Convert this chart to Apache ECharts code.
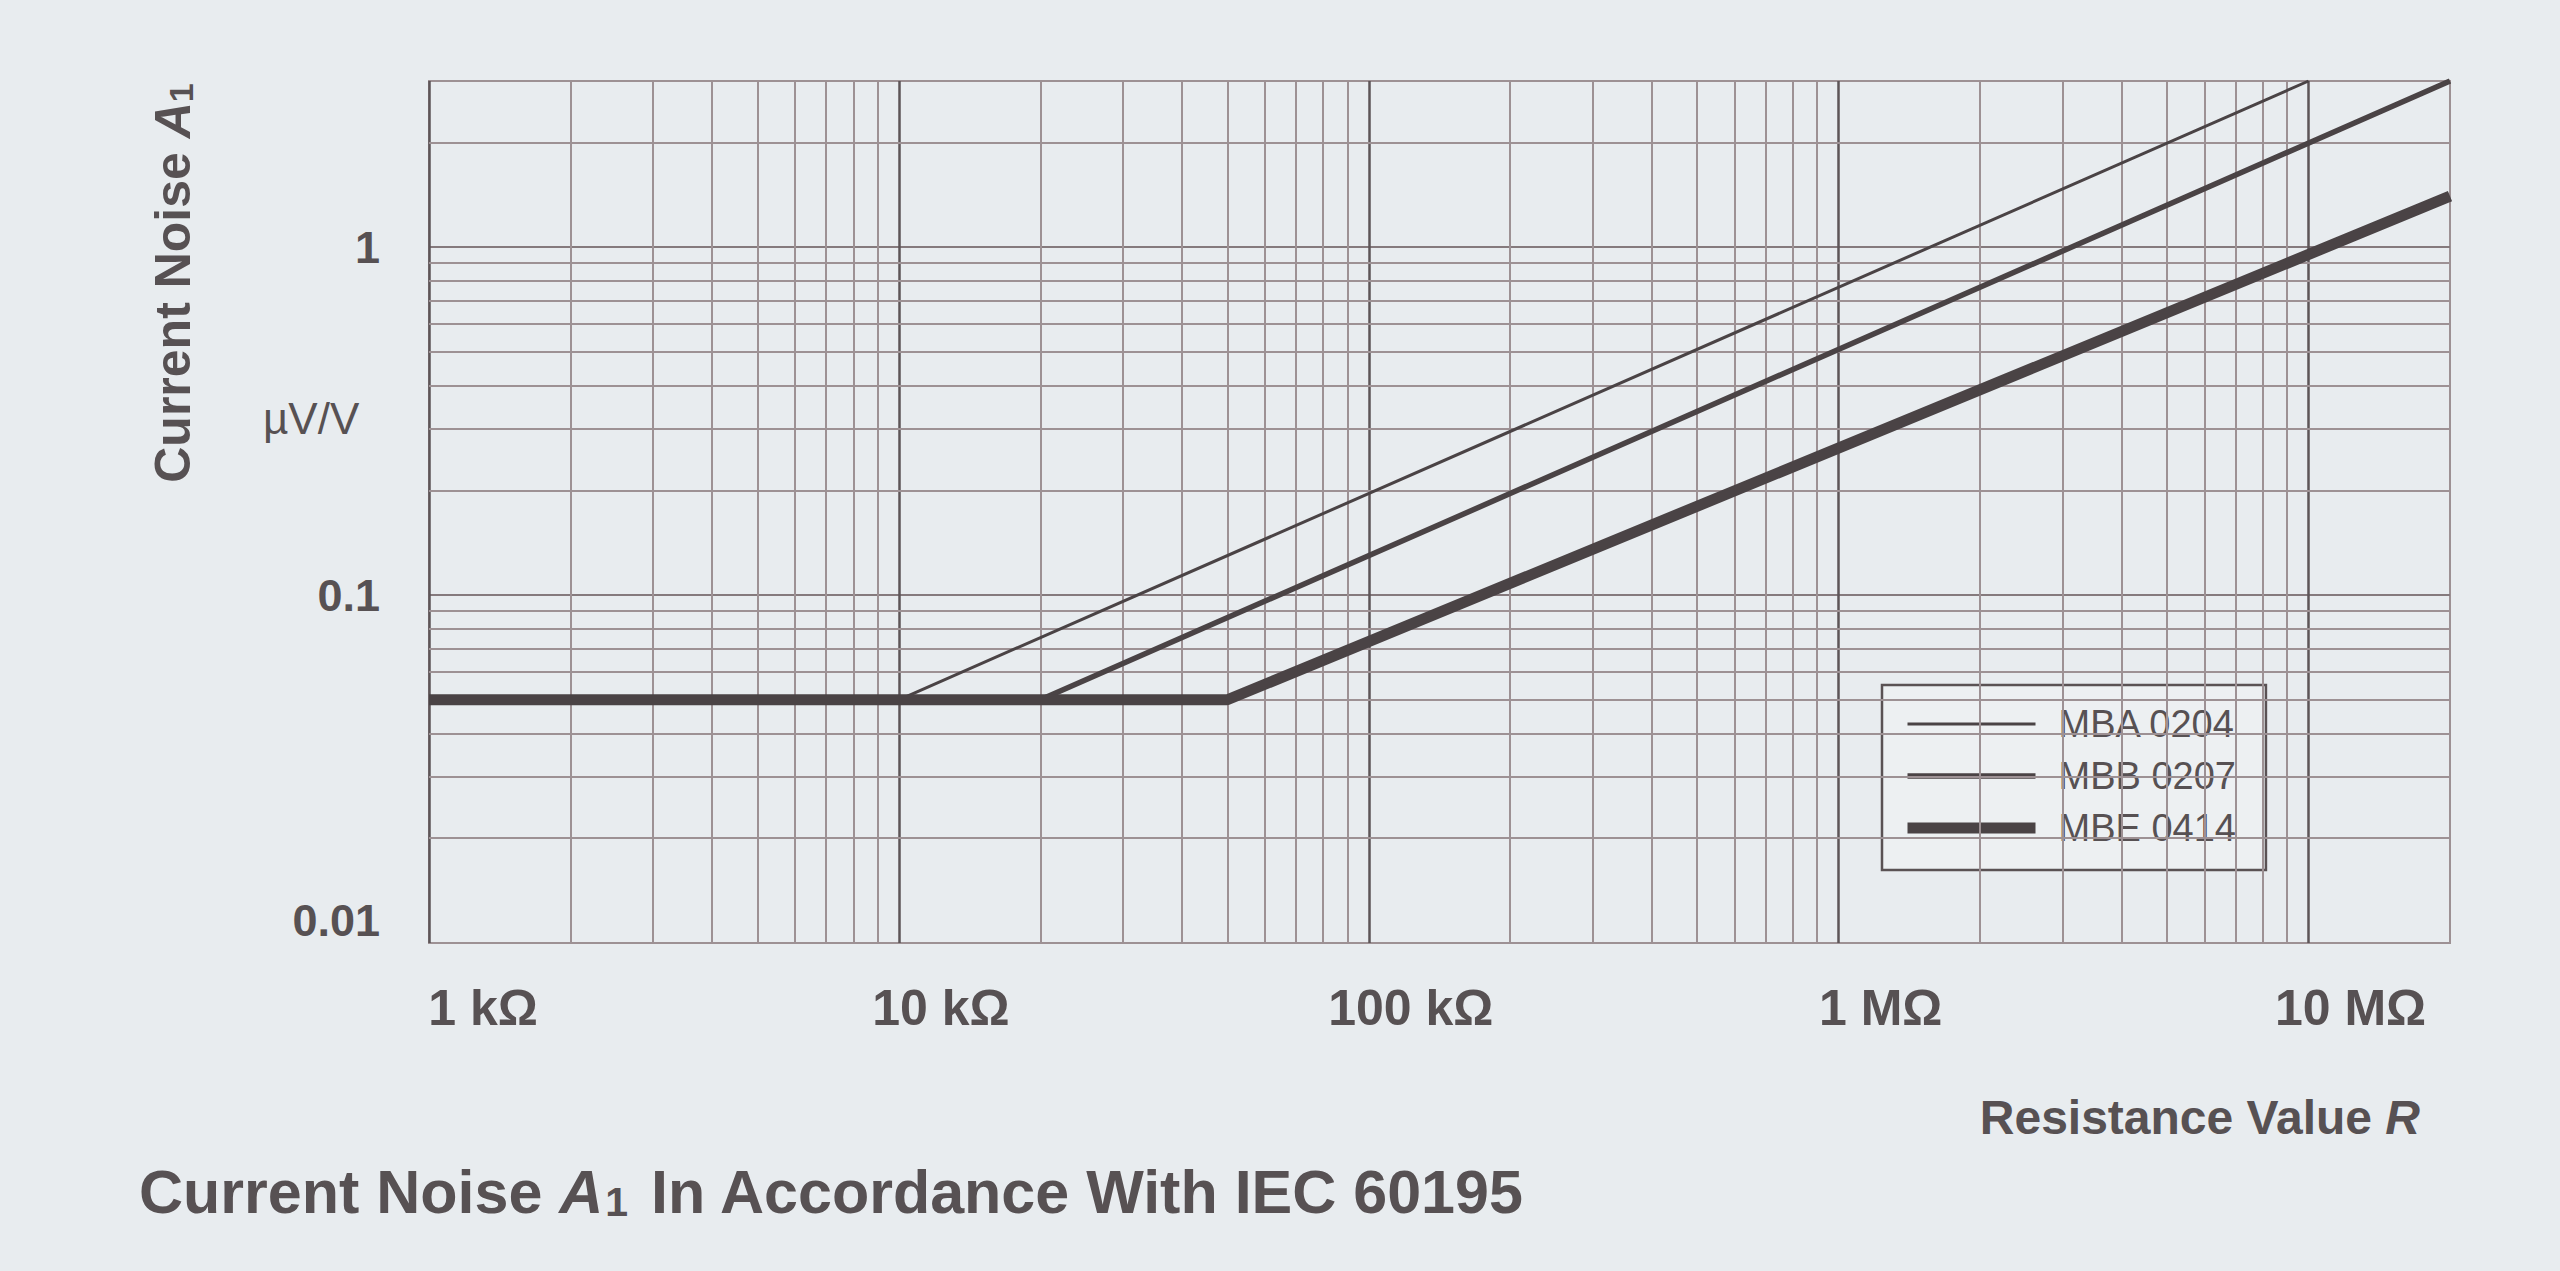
<!DOCTYPE html>
<html>
<head>
<meta charset="utf-8">
<script src="https://cdn.jsdelivr.net/npm/echarts@6/dist/echarts.min.js"></script>
<style>
  body { margin: 0; background: #e8ecef; }
  #chart { width: 2560px; height: 1271px; }
</style>
</head>
<body>
<div id="chart"></div>
<script>
// resistance (ohm) / current noise (uV/V) corner points
const resistanceMBA = [1000, 10000, 10000000];
const noiseMBA = [0.05, 0.05, 3];
const resistanceMBB = [1000, 20000, 20000000];
const noiseMBB = [0.05, 0.05, 3];
const resistanceMBE = [1000, 50000, 20000000];
const noiseMBE = [0.05, 0.05, 1.4];

const seriesNames = ['MBA 0204', 'MBB 0207', 'MBE 0414'];
const lineWidths = [3, 5.5, 11];

const xTickValues = [1e3, 1e4, 1e5, 1e6, 1e7];
const xTickLabels = ['1 kΩ', '10 kΩ', '100 kΩ', '1 MΩ', '10 MΩ'];
const yTickValues = [0.01, 0.1, 1];
const yTickLabels = ['0.01', '0.1', '1'];

const xMin = 1e3, xMax = 2e7;
const yMin = 0.01, yMax = 3;

// minor log grid: 2..9 in each decade
const gridSteps = [2, 3, 4, 5, 6, 7, 8, 9];
const xGridDecades = [1e3, 1e4, 1e5, 1e6, 1e7];
const yGridDecades = [0.01, 0.1, 1];

const textColor = '#575153';
const lineColor = '#4a4345';

function pairs(xs, ys) {
  return xs.map(function (x, i) { return [x, ys[i]]; });
}

function pickLabel(values, v) {
  for (let i = 0; i < values.length; i++) {
    if (Math.abs(Math.log10(v) - Math.log10(values[i])) < 0.01) return i;
  }
  return -1;
}

let xMinor = [];
xGridDecades.forEach(function (d) {
  gridSteps.forEach(function (s) { if (d * s < xMax) xMinor.push(d * s); });
});
let yMinor = [];
yGridDecades.forEach(function (d) {
  gridSteps.forEach(function (s) { if (d * s < yMax * 0.999) yMinor.push(d * s); });
});

var myChart = echarts.init(document.getElementById('chart'), null, {renderer: 'svg'});

var xLabelStyle = {fontSize: 50, fontWeight: 'bold', color: textColor, lineHeight: 50};

var option = {
  backgroundColor: '#e8ecef',
  animation: false,
  textStyle: {fontFamily: 'Liberation Sans, Arial, sans-serif'},
  title: [
    {
      text: 'Current Noise {i|A}{s|1} In Accordance With IEC 60195',
      left: 139,
      top: 1162,
      padding: 0,
      textStyle: {
        fontSize: 61, fontWeight: 'bold', color: textColor, lineHeight: 60,
        rich: {
          i: {fontSize: 61, fontWeight: 'bold', fontStyle: 'italic', color: textColor, lineHeight: 60},
          s: {fontSize: 41, fontWeight: 'bold', color: textColor, lineHeight: 40, verticalAlign: 'bottom', padding: [0, 6, 0, 2]}
        }
      }
    },
    {
      text: 'Resistance Value {i|R}',
      right: 140,
      top: 1093,
      padding: 0,
      textStyle: {
        fontSize: 48, fontWeight: 'bold', color: textColor, lineHeight: 48,
        rich: {
          i: {fontSize: 48, fontWeight: 'bold', fontStyle: 'italic', color: textColor, lineHeight: 48}
        }
      }
    },
    {
      text: 'µV/V',
      left: 263,
      top: 396,
      padding: 0,
      textStyle: {fontSize: 44, fontWeight: 'normal', color: textColor, lineHeight: 44}
    }
  ],
  graphic: [
    {
      type: 'text',
      x: 173,
      y: 283,
      rotation: Math.PI / 2,
      style: {
        text: 'Current Noise {i|A}{s|1}',
        font: 'bold 50px Liberation Sans, Arial, sans-serif',
        fill: textColor,
        align: 'center',
        verticalAlign: 'middle',
        rich: {
          i: {font: 'italic bold 50px Liberation Sans, Arial, sans-serif', fill: textColor, lineHeight: 50},
          s: {font: 'bold 34px Liberation Sans, Arial, sans-serif', fill: textColor, lineHeight: 34, verticalAlign: 'bottom'}
        }
      }
    }
  ],
  legend: {
    orient: 'vertical',
    left: 1882,
    top: 685,
    padding: [20, 30, 23, 20],
    itemWidth: 128,
    itemHeight: 38,
    itemGap: 14,
    backgroundColor: '#edf0f2',
    borderColor: '#5a5254',
    borderWidth: 2.5,
    borderRadius: 0,
    selectedMode: false,
    textStyle: {fontSize: 38, color: textColor, padding: [0, 0, 0, 18]},
    data: seriesNames.map(function (n, i) {
      return {
        name: n,
        lineStyle: {width: lineWidths[i], color: lineColor},
        itemStyle: {opacity: 0, color: 'rgba(0,0,0,0)', borderWidth: 0}
      };
    })
  },
  grid: {
    left: 429,
    top: 81,
    width: 2021,
    height: 862,
    show: true,
    backgroundColor: 'transparent',
    borderColor: '#9d9194',
    borderWidth: 2,
    containLabel: false,
    outerBoundsMode: 'none'
  },
  xAxis: {
    type: 'log',
    logBase: 10,
    min: xMin,
    max: xMax,
    axisLine: {show: false},
    axisTick: {show: false},
    axisLabel: {
      showMaxLabel: false,
      fontSize: 50,
      fontWeight: 'bold',
      color: textColor,
      lineHeight: 50,
      margin: 40,
      formatter: function (v) {
        let i = pickLabel(xTickValues, v);
        if (i < 0) return '';
        return (i === 0 ? '{first|' : '{n|') + xTickLabels[i] + '}';
      },
      rich: {
        n: Object.assign({padding: [0, 0, 0, 84]}, xLabelStyle),
        first: Object.assign({padding: [0, 0, 0, 108]}, xLabelStyle)
      }
    },
    splitLine: {
      show: true,
      showMinLine: false,
      showMaxLine: false,
      lineStyle: {color: '#5d5557', width: 2.5}
    }
  },
  yAxis: {
    type: 'log',
    logBase: 10,
    min: yMin,
    max: yMax,
    axisLine: {show: false},
    axisTick: {show: false},
    axisLabel: {
      showMaxLabel: false,
      margin: 49,
      color: textColor,
      fontSize: 45,
      fontWeight: 'bold',
      formatter: function (v) {
        let i = pickLabel(yTickValues, v);
        if (i < 0) return '';
        return (i === 0 ? '{low|' : '{n|') + yTickLabels[i] + '}';
      },
      rich: {
        n: {fontSize: 45, fontWeight: 'bold', color: textColor, lineHeight: 45},
        low: {fontSize: 45, fontWeight: 'bold', color: textColor, lineHeight: 45, padding: [0, 0, 46, 0]}
      }
    },
    splitLine: {
      show: true,
      showMinLine: false,
      showMaxLine: false,
      lineStyle: {color: '#857a7d', width: 2}
    }
  },
  series: [
    {
      name: 'minor grid',
      type: 'line',
      data: [],
      silent: true,
      z: 1,
      markLine: {
        silent: true,
        animation: false,
        symbol: ['none', 'none'],
        label: {show: false},
        emphasis: {disabled: true},
        lineStyle: {type: 'solid', color: '#9d9194', width: 2},
        data: xMinor.map(function (v) { return {xAxis: v}; })
          .concat(yMinor.map(function (v) { return {yAxis: v}; }))
      }
    },
    {
      name: seriesNames[0],
      type: 'line',
      symbol: 'none',
      z: 5,
      lineStyle: {color: lineColor, width: lineWidths[0]},
      itemStyle: {color: lineColor},
      data: pairs(resistanceMBA, noiseMBA)
    },
    {
      name: seriesNames[1],
      type: 'line',
      symbol: 'none',
      z: 5,
      lineStyle: {color: lineColor, width: lineWidths[1]},
      itemStyle: {color: lineColor},
      data: pairs(resistanceMBB, noiseMBB)
    },
    {
      name: seriesNames[2],
      type: 'line',
      symbol: 'none',
      z: 5,
      lineStyle: {color: lineColor, width: lineWidths[2]},
      itemStyle: {color: lineColor},
      data: pairs(resistanceMBE, noiseMBE)
    }
  ]
};

myChart.setOption(option);
</script>
</body>
</html>
